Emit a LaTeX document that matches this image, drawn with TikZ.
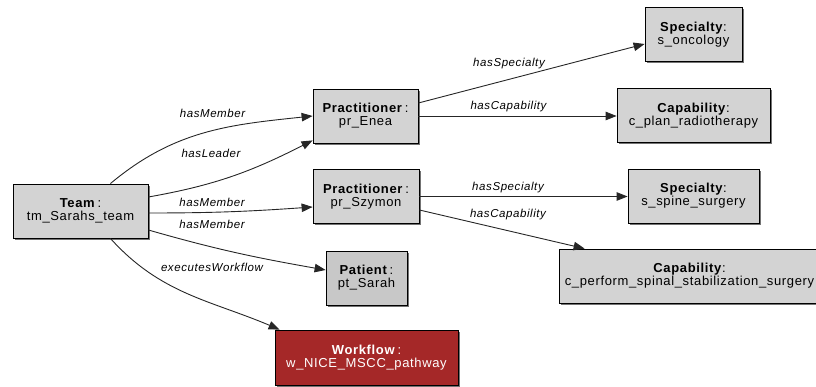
\documentclass[tikz,border=0pt]{standalone}
\usepackage{fontspec}
\setmainfont{Liberation Sans}[LetterSpace=5]
\usetikzlibrary{arrows.meta,shadows}

\definecolor{boxgray}{RGB}{211,211,211}
\definecolor{patientgray}{RGB}{200,200,200}
\definecolor{workflowred}{RGB}{165,40,40}

\newcommand{\nodefont}{\fontsize{13}{13}\selectfont}
\newcommand{\edgefont}{\fontsize{11.5}{12}\selectfont\itshape}

\tikzset{
  entity/.style={draw=black, line width=0.8pt, fill=boxgray,
    minimum height=54pt, inner sep=0pt, align=center, font=\nodefont,
    drop shadow={shadow xshift=1.6pt, shadow yshift=-1.6pt, fill=black!55, opacity=1}},
  rel/.style={draw=black!85, line width=0.9pt,
    -{Triangle[length=11pt,width=8.5pt]}},
  rellabel/.style={font=\edgefont, inner sep=0pt}
}

\begin{document}
\begin{tikzpicture}[x=1pt,y=-1pt]
\useasboundingbox (0,0) rectangle (816,387);

% entities
\node[entity, minimum width=135pt] (team) at (80.5,211) {\textbf{Team}\,:\\tm\_Sarahs\_team};
\node[entity, minimum width=105pt] (enea) at (365.5,116) {\textbf{Practitioner}\,:\\pr\_Enea};
\node[entity, minimum width=106pt] (szymon) at (366,196.5) {\textbf{Practitioner}\,:\\pr\_Szymon};
\node[entity, minimum width=81pt, fill=patientgray] (patient) at (366.5,278) {\textbf{Patient}\,:\\pt\_Sarah};
\node[entity, minimum width=183pt, minimum height=55pt, fill=workflowred, text=white] (wf) at (366.5,357.5) {\textbf{Workflow}\,:\\w\_NICE\_MSCC\_pathway};
\node[entity, minimum width=97pt] (onco) at (693.5,34.5) {\textbf{Specialty}:\\s\_oncology};
\node[entity, minimum width=153pt] (plan) at (693.5,115.5) {\textbf{Capability}:\\c\_plan\_radiotherapy};
\node[entity, minimum width=131pt] (spine) at (693.5,196) {\textbf{Specialty}:\\s\_spine\_surgery};
\node[entity, minimum width=261pt] (perform) at (689.5,276) {\textbf{Capability}:\\c\_perform\_spinal\_stabilization\_surgery};

% team relations
\draw[rel] ([xshift=-38pt]team.north east) to[out=40, in=186] (enea.west);
\draw[rel] ([yshift=14pt]team.east) to[out=10, in=207] ([yshift=3pt]enea.south west);
\draw[rel] ([yshift=-2pt]team.east) to[out=0, in=184] ([yshift=-10.5pt]szymon.west);
\draw[rel] ([yshift=-19pt]team.east) to[out=-16, in=170] ([yshift=8pt]patient.west);
\draw[rel] ([xshift=-38pt]team.south east) to[out=-48, in=157] ([xshift=5pt]wf.north west);

% practitioner relations
\draw[rel] ([yshift=13pt]enea.east) -- ([yshift=-9.5pt]onco.west);
\draw[rel] (enea.east) -- (enea.east -| plan.west);
\draw[rel] (szymon.east) -- (szymon.east -| spine.west);
\draw[rel] ([yshift=-13.5pt]szymon.east) -- ([xshift=26pt]perform.north west);

% relation labels
\node[rellabel] (l1) at (212.5,113) {hasMember};
\node[rellabel] (l2) at (211,153) {hasLeader};
\node[rellabel] (l3) at (212,202) {hasMember};
\node[rellabel] (l4) at (212,224) {hasMember};
\node[rellabel] (l5) at (212,267) {executesWorkflow};
\node[rellabel] (l6) at (509,64) {hasSpecialty};
\node[rellabel] (l7) at (508.5,107) {hasCapability};
\node[rellabel] (l8) at (508,188) {hasSpecialty};
\node[rellabel] (l9) at (508,215) {hasCapability};
\end{tikzpicture}
\end{document}
